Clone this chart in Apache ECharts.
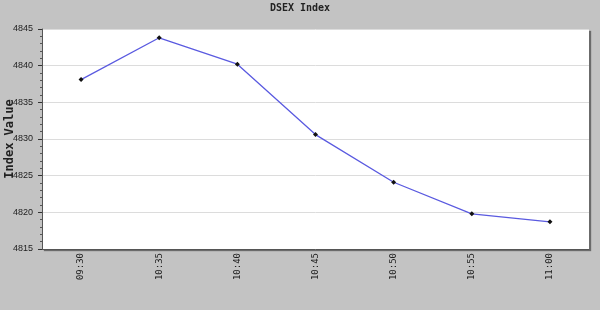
<!DOCTYPE html>
<html><head><meta charset="utf-8">
<script src="https://cdn.jsdelivr.net/npm/echarts@6/dist/echarts.min.js"></script>
<style>html,body{margin:0;padding:0;background:#c3c3c3}#c{width:600px;height:310px}</style>
</head><body><div id="c"></div>
<script>
const categories = ["09:30","10:35","10:40","10:45","10:50","10:55","11:00"];
const indexValues = [4838.1, 4843.8, 4840.2, 4830.6, 4824.1, 4819.8, 4818.7];
const yMin = 4815, yMax = 4845, yStep = 5;

const chart = echarts.init(document.getElementById('c'), null, {renderer:'canvas'});
chart.setOption({
  backgroundColor: '#c3c3c3',
  animation: false,
  title: {
    text: 'DSEX Index', left: 'center', top: -2,
    textStyle: {fontFamily: 'DejaVu Sans Mono', fontSize: 10, fontWeight: 'bold', color: '#222'}
  },
  grid: {
    left: 42, right: 11, top: 29, bottom: 61,
    containLabel: false, outerBoundsMode: 'none',
    show: true, backgroundColor: '#ffffff', borderWidth: 0,
    shadowColor: 'rgba(0,0,0,0.45)', shadowOffsetX: 2, shadowOffsetY: 2, shadowBlur: 1
  },
  xAxis: {
    type: 'category', data: categories, boundaryGap: true,
    axisLine: {lineStyle: {color: '#555', width: 1}},
    axisTick: {alignWithLabel: true, inside: true, length: 5, lineStyle: {color: '#333'}},
    axisLabel: {rotate: 90, fontSize: 9, color: '#222', fontFamily: 'DejaVu Sans Mono', margin: 4},
    splitLine: {show: false}
  },
  yAxis: {
    type: 'value', min: yMin, max: yMax, interval: yStep,
    name: 'Index Value', nameLocation: 'middle', nameGap: 26, nameMoveOverlap: false,
    nameTextStyle: {fontFamily: 'DejaVu Sans Mono', fontSize: 12, fontWeight: 'bold', color: '#222'},
    axisLine: {show: true, lineStyle: {color: '#555', width: 1}},
    axisTick: {show: true, length: 4, lineStyle: {color: '#333'}},
    minorTick: {show: true, splitNumber: 5, length: 2, lineStyle: {color: '#555'}},
    axisLabel: {fontSize: 9, color: '#222', fontFamily: 'Liberation Sans', margin: 9,
      formatter: function (v) { return String(v); }},
    splitLine: {show: true, lineStyle: {color: '#dcdcdc', width: 1}}
  },
  series: [{
    type: 'line', data: indexValues,
    lineStyle: {color: '#5a5ae0', width: 1.3},
    symbol: 'diamond', symbolSize: 5, showSymbol: true,
    itemStyle: {color: '#111', borderWidth: 0}
  }]
});
</script></body></html>
